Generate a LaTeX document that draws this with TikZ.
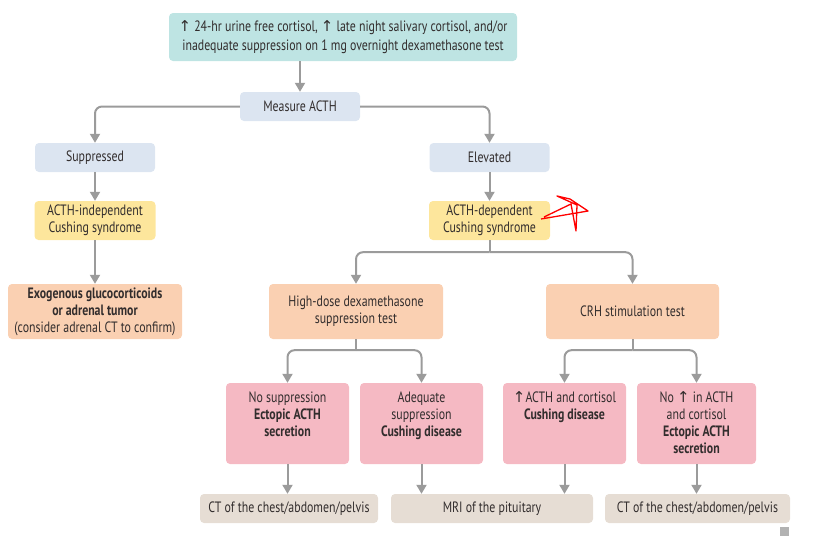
\documentclass[tikz,border=0pt]{standalone}
\usepackage{fontspec}
\setmainfont[FakeStretch=0.79]{PT Sans}
\newfontfamily\arrowfont{DejaVu Sans}
\usetikzlibrary{arrows.meta}
\usepackage{xcolor}
\definecolor{tealfill}{RGB}{190, 228, 227}
\definecolor{bluefill}{RGB}{220, 229, 241}
\definecolor{yellowfill}{RGB}{253, 230, 156}
\definecolor{peachfill}{RGB}{250, 208, 178}
\definecolor{pinkfill}{RGB}{245, 185, 195}
\definecolor{beigefill}{RGB}{230, 221, 212}
\definecolor{linegray}{RGB}{155, 155, 155}
\definecolor{txtgray}{RGB}{50, 45, 45}
\newcommand{\up}{{\arrowfont\char"2191}}

\begin{document}
\begin{tikzpicture}[x=1pt, y=-1pt, font=\fontsize{15}{17}\selectfont, text=txtgray,
    box/.style={rounded corners=4pt, inner sep=0pt, align=center},
    tealbox/.style={box, fill=tealfill},
    bluebox/.style={box, fill=bluefill, minimum width=120pt, minimum height=29pt},
    yellowbox/.style={box, fill=yellowfill, minimum width=121pt, minimum height=39pt},
    peachbox/.style={box, fill=peachfill, minimum width=174pt, minimum height=55pt},
    pinkbox/.style={box, fill=pinkfill, minimum height=81pt},
    beigebox/.style={box, fill=beigefill, minimum height=29pt},
    toptext/.style={anchor=north, align=center, yshift=-5pt},
    conn/.style={draw=linegray, line width=2pt, rounded corners=7pt},
    arr/.style={conn, -{Triangle[length=9pt,width=10pt]}}]
    \useasboundingbox (0,0) rectangle (814,536);

    % first rows
    \node[tealbox, minimum width=348pt, minimum height=48pt, font=\fontsize{15}{19}\selectfont] (top) at (343,37)
        {\up\ 24-hr urine free cortisol, \up\ late night salivary cortisol, and/or\\
         inadequate suppression on 1 mg overnight dexamethasone test};
    \node[bluebox] (measure) at (300,106.5) {Measure ACTH};
    \node[bluebox] (supp) at (95,157.5) {Suppressed};
    \node[bluebox] (elev) at (489.5,157.5) {Elevated};
    \node[yellowbox] (indep) at (95,220.5) {ACTH-independent\\Cushing syndrome};
    \node[yellowbox] (dep) at (489.5,220.5) {ACTH-dependent\\Cushing syndrome};

    % tests
    \node[peachbox] (exo) at (95,311.5)
        {\textbf{Exogenous glucocorticoids}\\\textbf{or adrenal tumor}\\(consider adrenal CT to confirm)};
    \node[peachbox] (hdd) at (356,311.5) {High-dose dexamethasone\\suppression test};
    \node[peachbox, minimum width=173pt] (crh) at (632.5,311.5) {CRH stimulation test};

    % results
    \node[pinkbox, minimum width=123pt,
        label={[toptext]north:No suppression\\\textbf{Ectopic ACTH}\\\textbf{secretion}}] (nosupp) at (287.5,423.5) {};
    \node[pinkbox, minimum width=123pt,
        label={[toptext]north:Adequate\\suppression\\\textbf{Cushing disease}}] (adeq) at (421.5,423.5) {};
    \node[pinkbox, minimum width=123pt,
        label={[toptext]north:\up ACTH and cortisol\\\textbf{Cushing disease}}] (rise) at (564.5,423.5) {};
    \node[pinkbox, minimum width=119pt,
        label={[toptext]north:No \up\ in ACTH\\and cortisol\\\textbf{Ectopic ACTH}\\\textbf{secretion}}] (norise) at (696.5,423.5) {};

    % imaging
    \node[beigebox, minimum width=178pt] (ct1) at (289,508.5) {CT of the chest/abdomen/pelvis};
    \node[beigebox, minimum width=202pt] (mri) at (492,508.5) {MRI of the pituitary};
    \node[beigebox, minimum width=185pt] (ct2) at (697.5,508.5) {CT of the chest/abdomen/pelvis};

    % connectors
    \draw[arr] (measure.north |- top.south) -- (measure.north);
    \draw[arr] (measure.west) -| (supp.north);
    \draw[arr] (measure.east) -| (elev.north);
    \draw[arr] (supp) -- (indep);
    \draw[arr] (indep) -- (exo);
    \draw[arr] (elev) -- (dep);
    \draw[conn] (dep.south) -- ++(0,12) coordinate (dsplit);
    \draw[arr] (dsplit) -| (hdd.north);
    \draw[arr] (dsplit) -| (crh.north);
    \draw[conn] (hdd.south) -- ++(0,11) coordinate (hsplit);
    \draw[arr] (hsplit) -| (nosupp.north);
    \draw[arr] (hsplit) -| (adeq.north);
    \draw[conn] (crh.south) -- ++(0,11) coordinate (csplit);
    \draw[arr] (csplit) -| (rise.north);
    \draw[arr] (csplit) -| (norise.north);
    \draw[arr] (nosupp.south) -- (nosupp.south |- ct1.north);
    \draw[arr] (adeq.south) -- (adeq.south |- mri.north);
    \draw[arr] (rise.south) -- (rise.south |- mri.north);
    \draw[arr] (norise.south) -- (norise.south |- ct2.north);

    % red mark and logo
    \draw[red, line width=1.3pt, line join=round]
        (541,219) -- (588,211) -- (570,199) -- (557,196) -- (577,205) -- (576,231) -- (571,204) -- (544,217);
    \fill[gray!60] (780,527) rectangle (789,536);
\end{tikzpicture}
\end{document}
